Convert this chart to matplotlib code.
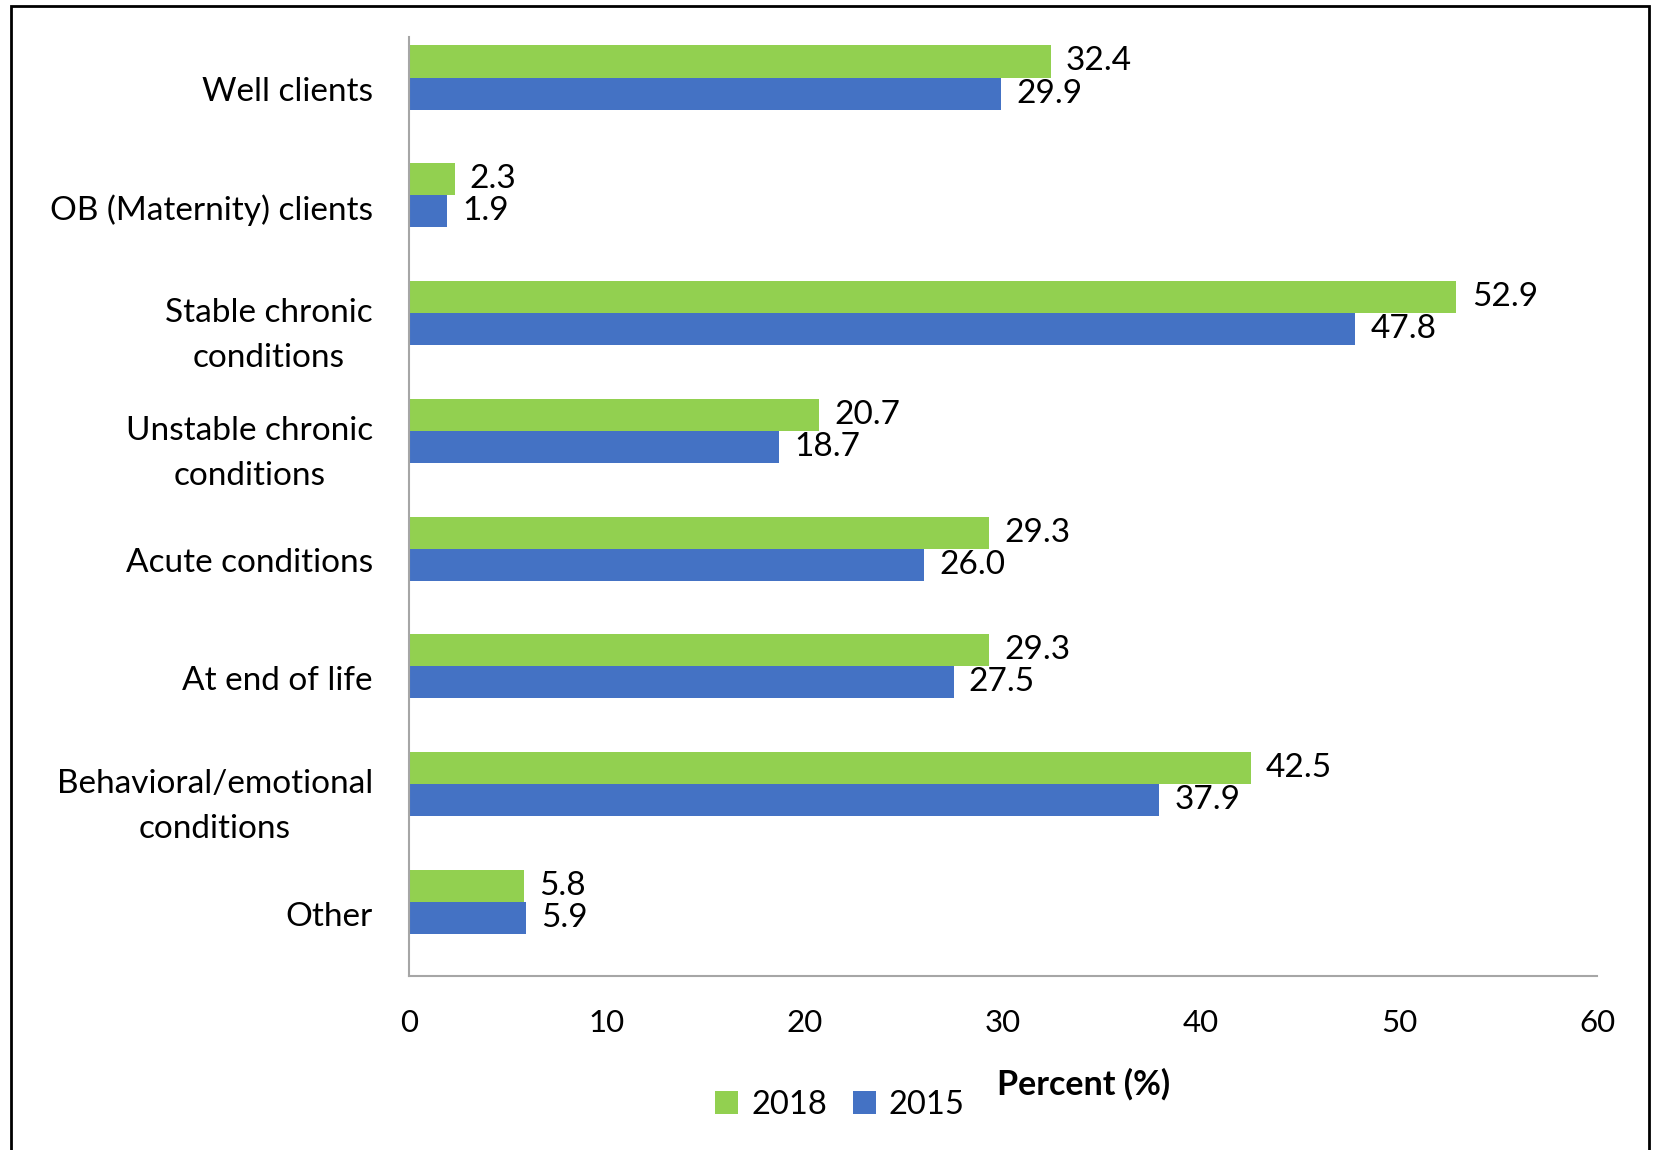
import numpy as np
import matplotlib.pyplot as plt
from matplotlib.patches import Rectangle

plt.rcParams['font.family'] = ['Lato', 'DejaVu Sans']

categories = ['Well clients', 'OB (Maternity) clients', 'Stable chronic\nconditions',
              'Unstable chronic\nconditions', 'Acute conditions', 'At end of life',
              'Behavioral/emotional\nconditions', 'Other']
vals_2018 = [32.4, 2.3, 52.9, 20.7, 29.3, 29.3, 42.5, 5.8]
vals_2015 = [29.9, 1.9, 47.8, 18.7, 26.0, 27.5, 37.9, 5.9]
xticks = [0, 10, 20, 30, 40, 50, 60]

green = '#92D050'
blue = '#4472C4'
axis_gray = '#A6A6A6'

fig = plt.figure(figsize=(16.54, 11.5), dpi=100)
ax = fig.add_axes([409 / 1654, 1 - 976 / 1150, (1597 - 409) / 1654, (976 - 37) / 1150])

y = np.arange(len(categories))
h = 0.272
b1 = ax.barh(y - h / 2, vals_2018, height=h, color=green, label='2018')
b2 = ax.barh(y + h / 2, vals_2015, height=h, color=blue, label='2015')

for bars, vals in [(b1, vals_2018), (b2, vals_2015)]:
    for bar, v in zip(bars, vals):
        ax.annotate(f'{v:.1f}', (v, bar.get_y() + bar.get_height() / 2),
                    xytext=(11, 0), textcoords='offset points',
                    va='center', ha='left', fontsize=24)

ax.set_xlim(0, 60)
ax.set_ylim(7.628, -0.344)
ax.set_xticks(xticks)
ax.set_xticklabels([str(t) for t in xticks], fontsize=22.5)
# category labels sit a little below the bar pair, as in the source
ax.set_yticks(y + 0.1)
ax.set_yticklabels(categories, fontsize=24, linespacing=1.64, multialignment='center')
ax.tick_params(axis='both', length=0)
ax.tick_params(axis='x', pad=24)
ax.tick_params(axis='y', pad=26)

for side in ['top', 'right']:
    ax.spines[side].set_visible(False)
for side in ['left', 'bottom']:
    ax.spines[side].set_color(axis_gray)
    ax.spines[side].set_linewidth(1.5)

fig.text(1084 / 1654, 1 - 1084 / 1150, 'Percent (%)', ha='center', va='center',
         fontsize=24.5, fontweight='bold')

leg = fig.legend(handles=[b1, b2], labels=['2018', '2015'], loc='center',
                 bbox_to_anchor=(840 / 1654, 1 - 1105 / 1150), ncol=2, frameon=False,
                 fontsize=23.5, handlelength=0.7, handleheight=0.7, handletextpad=0.4,
                 columnspacing=0.8)

# outer frame
fig.patches.append(Rectangle((11 / 1654, -0.01), (1649 - 11) / 1654, 1 - 6 / 1150 + 0.01,
                             transform=fig.transFigure, fill=False,
                             edgecolor='black', linewidth=2))

fig.savefig('out.png', dpi=100)
